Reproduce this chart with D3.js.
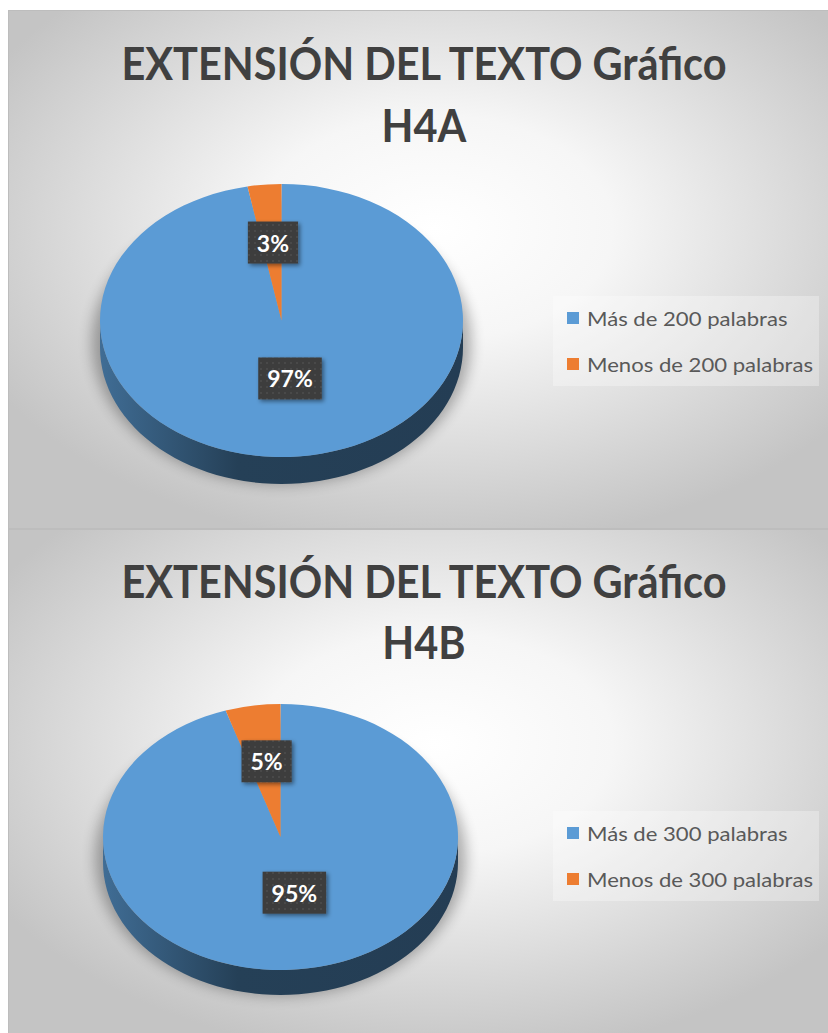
<!DOCTYPE html>
<html>
<head>
<meta charset="utf-8">
<script src="https://cdn.jsdelivr.net/npm/d3@7"></script>
<style>
  body { margin: 0; background: #fff; }
  svg { display: block; }
</style>
</head>
<body>
<div id="chart"></div>
<script>
/* global d3 */

// data
const titlesA = ['EXTENSIÓN DEL TEXTO Gráfico', 'H4A']
const categoriesA = ['Más de 200 palabras', 'Menos de 200 palabras']
const valuesA = [97, 3]

const titlesB = ['EXTENSIÓN DEL TEXTO Gráfico', 'H4B']
const categoriesB = ['Más de 300 palabras', 'Menos de 300 palabras']
const valuesB = [95, 5]

const colors = ['#5b9bd5', '#ed7d31']

// layout of the two stacked charts
const layout = [
  { y: 10, h: 518, titleY: [80, 142], cx: 281.5, cy: 320.5, rx: 181.5, ry: 136.5, depth: 27, legendY: [318, 364] },
  { y: 529, h: 510, titleY: [598, 659], cx: 280.5, cy: 837, rx: 177.5, ry: 133, depth: 25, legendY: [833, 879] }
]
const charts = [
  { titles: titlesA, cats: categoriesA, vals: valuesA },
  { titles: titlesB, cats: categoriesB, vals: valuesB }
]

const width = 828, height = 1033
const font = 'Lato, "Open Sans", sans-serif'

const svg = d3.select('#chart')
  .append('svg')
  .attr('width', width)
  .attr('height', height)

const defs = svg.append('defs')

const bg = defs.append('radialGradient')
  .attr('id', 'bg')
  .attr('cx', '52%').attr('cy', '42%').attr('r', '62%')
bg.append('stop').attr('offset', '0%').attr('stop-color', '#ffffff')
bg.append('stop').attr('offset', '35%').attr('stop-color', '#f6f6f6')
bg.append('stop').attr('offset', '100%').attr('stop-color', '#c4c4c4')

const dots = defs.append('pattern')
  .attr('id', 'dots')
  .attr('width', 6).attr('height', 6)
  .attr('patternUnits', 'userSpaceOnUse')
dots.append('rect').attr('width', 6).attr('height', 6).attr('fill', '#3d3d3d')
dots.append('circle').attr('cx', 3).attr('cy', 3).attr('r', 0.8).attr('fill', '#5a5a5a')

const shadow = defs.append('filter').attr('id', 'boxShadow')
  .attr('x', '-20%').attr('y', '-20%').attr('width', '150%').attr('height', '150%')
shadow.append('feDropShadow')
  .attr('dx', 2).attr('dy', 2).attr('stdDeviation', 2)
  .attr('flood-color', '#000').attr('flood-opacity', 0.45)

const blur = defs.append('filter').attr('id', 'pieShadow')
  .attr('x', '-30%').attr('y', '-30%').attr('width', '160%').attr('height', '160%')
blur.append('feGaussianBlur').attr('stdDeviation', 7)

const pie = d3.pie().sort(null).value(d => d)

charts.forEach((c, i) => {
  const L = layout[i]
  const g = svg.append('g')

  // panel
  g.append('rect')
    .attr('x', 8.5).attr('y', L.y + 0.5)
    .attr('width', width - 8).attr('height', L.h)
    .attr('fill', 'url(#bg)')
    .attr('stroke', '#bdbdbd')

  // title, squeezed to the width of the original face
  const title = g.append('g')
    .attr('font-family', font)
    .attr('font-weight', 'bold')
    .attr('font-size', 46)
    .attr('fill', '#404040')
    .attr('text-anchor', 'middle')
  const tl = title.selectAll('text')
    .data(c.titles)
    .enter()
    .append('text')
    .attr('x', 424)
    .attr('y', (d, j) => L.titleY[j])
    .text(d => d)
  const ratio = 605 / tl.node().getComputedTextLength()
  tl.each(function () {
    d3.select(this)
      .attr('textLength', this.getComputedTextLength() * ratio)
      .attr('lengthAdjust', 'spacingAndGlyphs')
  })

  const arcs = pie(c.vals)
  const { cx, cy, rx, ry, depth } = L

  // soft shadow under the disc
  g.append('ellipse')
    .attr('cx', cx).attr('cy', cy + depth * 0.8)
    .attr('rx', rx + 8).attr('ry', ry + 6)
    .attr('fill', '#000')
    .attr('opacity', 0.3)
    .attr('filter', 'url(#pieShadow)')

  // side gradients
  colors.forEach((col, k) => {
    const base = d3.color(col)
    const lg = defs.append('linearGradient')
      .attr('id', `side${i}_${k}`)
      .attr('gradientUnits', 'userSpaceOnUse')
      .attr('x1', cx - rx).attr('x2', cx + rx)
      .attr('y1', 0).attr('y2', 0)
    lg.append('stop').attr('offset', '0%').attr('stop-color', base.darker(1))
    lg.append('stop').attr('offset', '38%').attr('stop-color', base.darker(2.5))
    lg.append('stop').attr('offset', '100%').attr('stop-color', base.darker(2.6))
  })

  const pt = (a, dy) => [cx + rx * Math.sin(a), cy - ry * Math.cos(a) + dy]
  const line = d3.line()

  // side walls (front half only)
  arcs.forEach((a, k) => {
    const s = Math.max(a.startAngle, Math.PI / 2)
    const e = Math.min(a.endAngle, Math.PI * 1.5)
    if (e <= s) return
    const n = 60
    const top = d3.range(n + 1).map(j => pt(s + (e - s) * j / n, 0))
    const bot = top.map(p => [p[0], p[1] + depth]).reverse()
    g.append('path')
      .attr('d', line(top.concat(bot)) + 'Z')
      .attr('fill', `url(#side${i}_${k})`)
  })

  // top face
  const arc = d3.arc().innerRadius(0).outerRadius(rx)
  g.append('g')
    .attr('transform', `translate(${cx},${cy}) scale(1,${ry / rx})`)
    .selectAll('path')
    .data(arcs)
    .enter()
    .append('path')
    .attr('d', arc)
    .attr('fill', (d, k) => colors[k])

  // data labels
  const total = d3.sum(c.vals)
  arcs.forEach(a => {
    const m = (a.startAngle + a.endAngle) / 2
    const lx = cx + 0.5 * rx * Math.sin(m)
    const ly = cy - 10 - 0.5 * ry * Math.cos(m)
    const lab = g.append('g')
    const box = lab.append('rect')
      .attr('fill', 'url(#dots)')
      .attr('filter', 'url(#boxShadow)')
    const t = lab.append('text')
      .attr('x', lx).attr('y', ly)
      .attr('text-anchor', 'middle')
      .attr('dominant-baseline', 'central')
      .attr('font-family', font)
      .attr('font-weight', 'bold')
      .attr('font-size', 23)
      .attr('fill', '#fff')
      .text(Math.round(a.value / total * 100) + '%')
    const w = t.node().getComputedTextLength() + 18
    box.attr('x', lx - w / 2).attr('y', ly - 21)
      .attr('width', w).attr('height', 42)
  })

  // legend
  const lgd = g.append('g')
  lgd.append('rect')
    .attr('x', 553).attr('y', L.legendY[0] - 22)
    .attr('width', 266).attr('height', 90)
    .attr('fill', '#fff').attr('opacity', 0.3)
  const items = lgd.selectAll('g.item')
    .data(c.cats)
    .enter()
    .append('g')
    .attr('class', 'item')
  items.append('rect')
    .attr('x', 567)
    .attr('y', (d, j) => L.legendY[j] - 6)
    .attr('width', 12).attr('height', 12)
    .attr('fill', (d, j) => colors[j])
  const lt = items.append('text')
    .attr('x', 587)
    .attr('y', (d, j) => L.legendY[j])
    .attr('dominant-baseline', 'central')
    .attr('font-family', font)
    .attr('font-size', 20)
    .attr('fill', '#595959')
    .text(d => d)
  const lr = 226 / lt.nodes()[1].getComputedTextLength()
  lt.each(function () {
    d3.select(this)
      .attr('textLength', this.getComputedTextLength() * lr)
      .attr('lengthAdjust', 'spacingAndGlyphs')
  })
})
</script>
</body>
</html>
